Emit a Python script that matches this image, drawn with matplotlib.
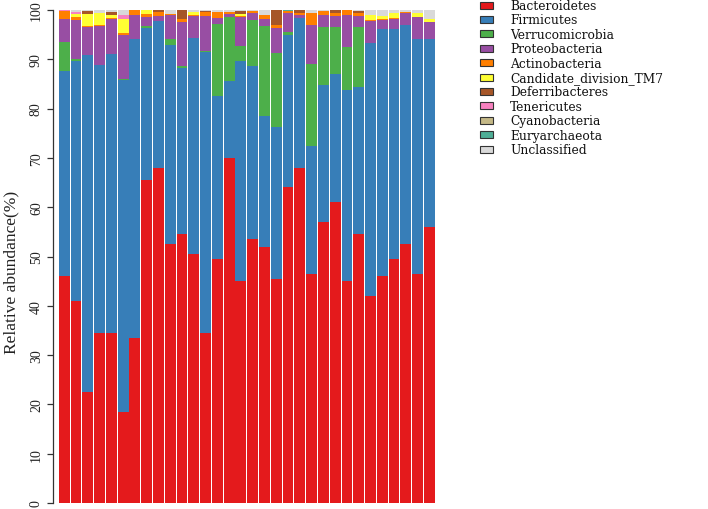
import matplotlib
matplotlib.use("Agg")
import matplotlib.pyplot as plt
from matplotlib.patches import Rectangle
import numpy as np

taxa = ["Bacteroidetes", "Firmicutes", "Verrucomicrobia", "Proteobacteria",
        "Actinobacteria", "Candidate_division_TM7", "Deferribacteres",
        "Tenericutes", "Cyanobacteria", "Euryarchaeota", "Unclassified"]
colors = ["#E41A1C", "#377EB8", "#4DAF4A", "#984EA3", "#FF7F00", "#FFFF33",
          "#A65628", "#F781BF", "#C4B886", "#4FAE96", "#D9D9D9"]

bacteroidetes = [46, 41, 22.5, 34.5, 34.5, 18.5, 33.5, 65.5, 68, 52.5, 54.5, 50.5,
                 34.5, 49.5, 70, 45, 53.5, 52, 45.5, 64, 68, 46.5, 57, 61,
                 45, 54.5, 42, 46, 49.5, 52.5, 46.5, 56]
firmicutes = [41.7, 48.7, 68.4, 54.3, 56.6, 67.2, 60.6, 30.8, 29.8, 40.4, 33.7, 43.9,
              56.9, 33.0, 15.5, 44.6, 35.1, 26.6, 30.8, 31.0, 30.3, 26.0, 27.8, 26.1,
              38.8, 29.9, 51.3, 50.1, 46.7, 44.5, 47.6, 38.1]
verrucomicrobia = [5.8, 0.4, 0, 0, 0, 0.27, 0, 0.47, 0, 1.2, 0.54, 0,
                   0.2, 14.7, 13.1, 3.0, 9.4, 18.2, 15.0, 0.5, 0, 16.55, 11.7, 9.4,
                   8.75, 12.2, 0, 0, 0, 0, 0, 0]
proteobacteria = [4.7, 7.9, 5.7, 7.9, 7.0, 8.96, 4.9, 1.75, 1.0, 4.85, 8.9, 4.4,
                  7.2, 1.1, 0.67, 5.9, 1.35, 1.35, 5.05, 3.8, 0.67, 7.85, 2.5, 2.2,
                  6.4, 2.2, 4.5, 1.9, 2.0, 2.35, 4.4, 3.4]
actinobacteria = [1.5, 0.55, 0.15, 0.2, 0.2, 0.33, 1.0, 0.67, 0.8, 0.33, 0.54, 0.2,
                  0.8, 1.35, 0.35, 0.27, 0.47, 0.87, 0.67, 0.5, 0.5, 2.4, 0.8, 0.67,
                  1.0, 0.67, 0.2, 0.2, 0.13, 0.33, 0.15, 0.15]
tm7 = [0, 0.65, 2.4, 2.5, 0.65, 3.0, 0, 0.8, 0, 0, 0, 0.6,
       0, 0, 0, 0.5, 0, 0, 0, 0, 0, 0, 0, 0,
       0, 0, 0.9, 0.67, 1.1, 0, 0.67, 0.5]
deferribacteres = [0, 0, 0.6, 0, 0.67, 0, 0, 0, 0.35, 0, 1.8, 0,
                   0.2, 0, 0, 0.47, 0, 0, 3.0, 0, 0.5, 0, 0, 0.67,
                   0, 0.33, 0, 0, 0, 0, 0, 0]
tenericutes = [0.2, 0.45, 0, 0, 0, 0.67, 0, 0, 0, 0, 0, 0,
               0, 0, 0, 0, 0, 0, 0, 0, 0, 0, 0, 0,
               0, 0, 0, 0, 0, 0, 0, 0]
cyanobacteria = [0.1, 0, 0, 0, 0, 0, 0, 0, 0, 0, 0, 0,
                 0, 0, 0, 0, 0, 0, 0, 0, 0, 0, 0, 0,
                 0, 0, 0, 0, 0, 0, 0, 0]
euryarchaeota = [0, 0, 0, 0, 0, 0, 0, 0, 0, 0, 0, 0,
                 0, 0, 0, 0, 0, 0, 0, 0.1, 0, 0, 0, 0,
                 0, 0, 0, 0, 0, 0, 0, 0]
unclassified = [0, 0.35, 0.2, 0.6, 0.33, 1.0, 0, 0, 0, 0.67, 0, 0.4,
                0.2, 0.33, 0.35, 0.2, 0.2, 1.0, 0, 0.2, 0, 0.67, 0.2, 0,
                0, 0.2, 1.1, 1.1, 0.55, 0.33, 0.67, 1.8]

series = [bacteroidetes, firmicutes, verrucomicrobia, proteobacteria, actinobacteria,
          tm7, deferribacteres, tenericutes, cyanobacteria, euryarchaeota, unclassified]
yticks = [0, 10, 20, 30, 40, 50, 60, 70, 80, 90, 100]

W, H = 708, 510
fig = plt.figure(figsize=(W / 100, H / 100), dpi=100)
serif = "Liberation Serif"

left_px, right_px = 58.3, 435.3
top_px, bot_px = 11.0, 504.0
ax = fig.add_axes([left_px / W, (H - bot_px) / H, (right_px - left_px) / W, (bot_px - top_px) / H])

x = np.arange(len(bacteroidetes))
bottom = np.zeros(len(x))
for vals, col in zip(series, colors):
    v = np.array(vals, dtype=float)
    ax.bar(x, v, bottom=bottom, width=0.92, color=col, edgecolor="none", linewidth=0)
    bottom += v

ax.set_xlim(-0.5, len(x) - 0.5)
ax.set_ylim(0, 100)
for s in ["top", "right", "bottom"]:
    ax.spines[s].set_visible(False)
ax.spines["left"].set_position(("outward", 3.6))
ax.spines["left"].set_bounds(0, 100)
ax.spines["left"].set_color("#333333")
ax.spines["left"].set_linewidth(0.9)
ax.set_xticks([])
ax.set_yticks(yticks)
ax.set_yticklabels([str(t) for t in yticks], rotation=90, va="center",
                   fontfamily=serif, fontsize=10, color="#222222")
ax.tick_params(axis="y", length=4.5, width=0.9, color="#333333", pad=3)
ax.set_ylabel("Relative abundance(%)", fontfamily=serif, fontsize=12.5, color="#222222")
ax.yaxis.set_label_coords((19 - left_px) / (right_px - left_px),
                          (bot_px - 272) / (bot_px - top_px))

# manual legend
leg_y0, leg_dy = 6.0, 14.4
for i, (name, col) in enumerate(zip(taxa, colors)):
    yc = leg_y0 + i * leg_dy
    fig.patches.append(Rectangle((480 / W, (H - yc - 3.5) / H), 13 / W, 7 / H,
                                 transform=fig.transFigure, facecolor=col,
                                 edgecolor="#333333", linewidth=0.8))
    fig.text(510 / W, (H - yc - 0.5) / H, name, fontfamily="DejaVu Serif", fontsize=8.8,
             va="center", ha="left", color="#111111")

fig.savefig("out.png", dpi=100)
